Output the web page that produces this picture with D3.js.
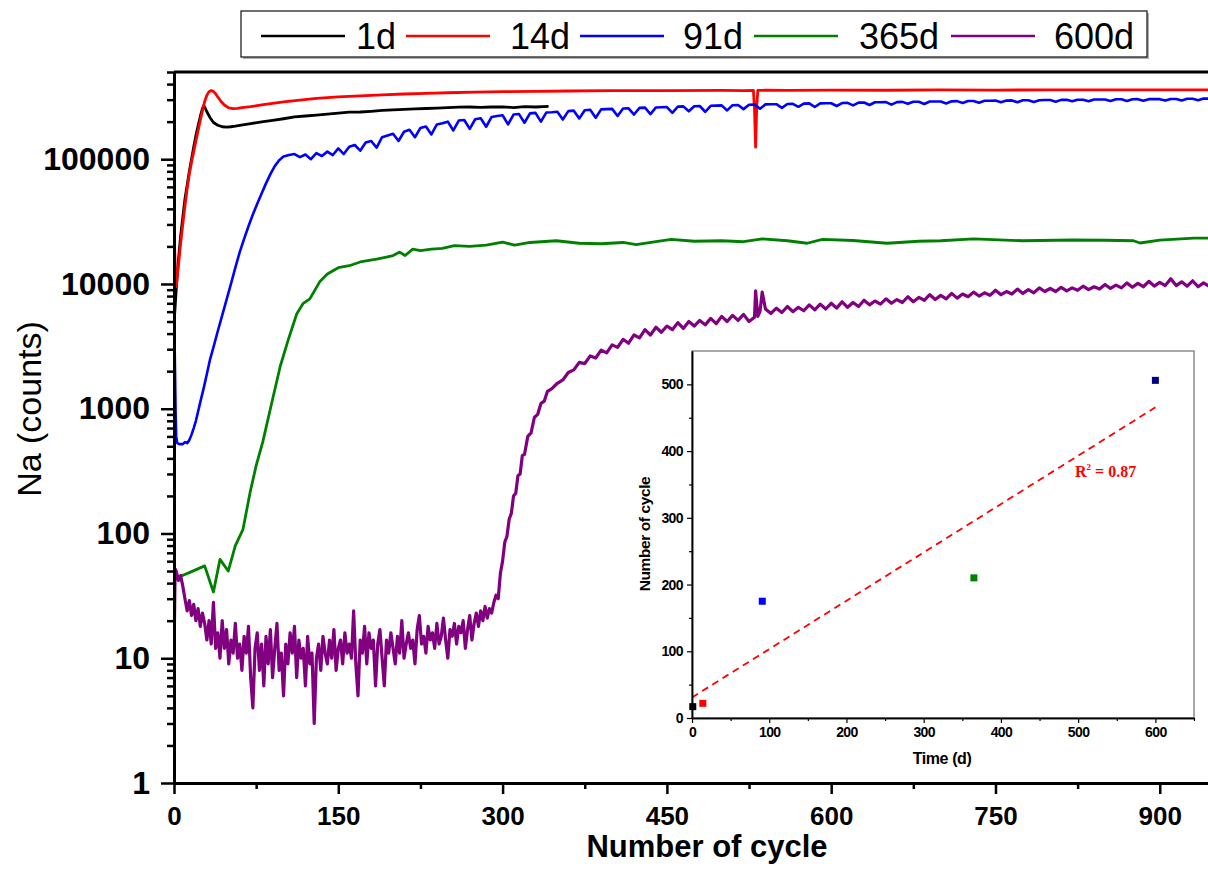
<!DOCTYPE html>
<html>
<head>
<meta charset="utf-8">
<script src="https://cdn.jsdelivr.net/npm/d3@7"></script>
<style>
  body { margin: 0; background: #fff; }
  svg { display: block; font-family: "Liberation Sans", Arial, sans-serif; }
</style>
</head>
<body>
<div id="root"></div>
<script>
// ---- data ----
const seriesNames = ["1d", "14d", "91d", "365d", "600d"];
const seriesColors = ["#000000", "#ff0000", "#0000ff", "#008000", "#800080"];
const seriesWidths = [2.8, 2.8, 2.6, 2.8, 3.2];

// 1d
const cyc1d = [0,1,2,3,4, 6,8,10,12,14,16,18,20,22,24,26, 27,28,30,33,36,40,44,48,52,56,60,
  70,80,90,100,110,120,130,140,150,160,170,180,190,200,210,220,230,240,250,260,270,280,290,300,310,320,330, 342];
const na1d = [4800,6500,9000,12000,15500, 24000,34000,48000,62000,80000,100000,125000,155000,185000,220000,255000,
  268000,262000,240000,215000,197000,187000,182000,181000,182000,184000,187000,
  193000,199000,205000,211000,218000,222000,226000,230000,234000,238000,239000,242000,246000,249000,251000,253000,
  255000,257000,259000,261000,262000,260000,262000,263000,259000,264000,262000, 265000];

// 14d
const cyc14d = [0,1,2,3,4, 6,8,10,12,14,16,18,20,22,24,26,28,30,32,34,36,38,40, 43,46,50,54,58,62, 70,80,90,100,
  115,130,150,170,190,210,230,250,275,300,330,360,400,450,500,520, 529,530,531,532,533,
  540,560,600,650,700,750,800,850,900,950];
const na14d = [32000,14000,9500,11500,14000, 21000,30000,42000,58000,76000,95000,115000,140000,170000,205000,245000,
  290000,325000,348000,355000,350000,335000,315000, 290000,272000,258000,254000,256000,259000,
  264000,272000,280000,288000, 298000,307000,316000,322000,328000,333000,337000,341000,345000,348000,350000,352000,
  354000,355000,356000,355000, 356000,250000,125000,260000,356000,
  357000,356000,358000,357000,359000,358000,360000,359000,360000,360000];

// 91d: start of the run, then one reading every 5 cycles from 110 (in thousands)
const cyc91dStart = [0,0.5,1,1.5,2,3,5,8,10,12,14,16,18,20,22,24,27,30,33,36,40,44,48,52,56,60,64,68,72,76,80,84,88,92,96,100,105];
const na91dStart = [6000,3500,1800,900,600,530,520,520,540,530,560,620,700,800,950,1130,1450,1900,2500,3100,4200,5600,
  7500,10000,13500,18000,23000,29000,36000,44000,53000,64000,76000,88000,98000,105000,108000];
const na91dTail_k = [
  110,104,109,100,112,106,115,108,
  122,110,126,130,117,136,140,124,150,155,
  160,140,166,172,150,178,183,158,190,194,
  200,170,204,206,175,209,213,182,218,222,
  225,190,228,230,196,233,235,200,237,238,
  240,208,243,245,212,247,249,215,251,252,
  253,222,255,256,228,258,259,230,260,261,
  262,235,264,265,242,266,267,240,268,269,
  270,246,271,272,252,273,274,254,275,276,
  276,258,277,278,263,279,280,262,280,281,
  281,267,282,283,270,284,285,272,286,286,
  287,274,287,288,278,289,289,277,290,290,
  290,280,291,292,282,293,293,284,294,294,
  295,286,295,296,286,297,297,288,297,298,
  298,289,299,299,291,300,300,292,301,301,
  301,293,302,302,293,302,303,294,303,303,
  303,295,304,304,296,305,305,297,306,306];

// 365d
const cyc365d = [2,5,15,28,36,42,49.5,56,63,69.5, 75,81,88,97,104,112,118,124,133,140,
  150,160,170,185,195,200,206,211,218,225, 235,245,256,270,285,300,311,325,349,370,
  390,410,422,440,454,475,500,520,537,560, 578,592,620,651,680,700,730,775,820,850, 876,882,900,931,950];
const na365d = [45,45,49,55,34,62,50,80,108,214, 350,540,1000,2190,3500,5750,7000,7600,10400,12000,
  13500,14000,15000,15800,16500,16900,18000,16900,19000,18500, 19000,19300,20300,20000,20500,21600,20500,21500,22200,21200,
  21000,21500,20700,21800,22800,22000,22200,21800,23000,22200, 21200,22800,22300,21200,22000,22200,23000,22200,22500,22400,
  22200,21300,22500,23300,23300];

// 600d: first two readings, noisy floor every 2 cycles (2..290), the rise, then every 5 cycles (345..945)
const cyc600dStart = [0, 1];
const na600dStart = [10, 52];
const na600dFloor = [50,42,46,38,30,24,29,22,27,20,25,18,23,19,14,20,13,28,12,16,10,20,12,17,9,14,11,19,10,13,
  8,15,11,18,7,4,12,16,8,13,6,15,9,17,7,12,19,8,11,5,13,9,16,11,18,7,14,10,12,6,
  15,9,11,3,10,13,8,15,11,9,14,10,17,8,12,14,9,16,11,13,10,24,9,5,14,11,18,9,16,12,
  14,6,13,17,10,6,14,11,16,12,9,15,11,20,10,13,16,12,14,9,17,22,13,15,11,18,14,16,12,19,
  13,15,21,14,10,17,15,19,13,18,16,20,12,17,22,14,19,23,18,24,20,26,21,25,23];
const cyc600dRise = [292,294,296,298,300,302,304,306,308,310,312,314,316,318,320,323,326,329,332,335,338,341];
const na600dRise = [28,32,30,48,60,85,95,130,145,200,210,290,300,420,430,600,640,850,900,1100,1150,1380];
const na600dHigh = [1450,1600,1700,1950,2050,2350,2300,2650,2550,2950,2800,3250,3100,3600,3350,3900,3700,4300,3900,4500,
  4100,4600,4300,4900,4400,5000,4600,5100,4700,5300,4800,5500,5000,5600,5100,5700,5000,
  5400,6000,6300,5800,6400,5900,6600,6000,6500,6100,6800,6200,6900,6300,7000,6400,7200,6500,7100,6600,
  7400,6800,7300,6900,7600,7000,7500,7100,7900,7200,7800,7400,8200,7500,8100,7600,8400,7700,8300,7900,
  8600,8000,8500,8100,8900,8200,8700,8300,9100,8400,9000,8500,9300,8700,9200,8700,9400,8800,9300,8900,
  9600,9000,9500,9100,9900,9200,9800,9300,10200,9400,10100,9500,10500,9600,10300,9700,11000,9700,10400,9600,
  10600,9500,10200,9600];
const cyc600dSpike = [531, 533, 537];
const na600dSpike = [8800, 5500, 8600];

// inset: cycle at which Na levels off vs. sample age
const insetDays = [1, 14, 91, 365, 600];
const insetCycles = [17, 22, 175, 210, 506];
const insetColors = ["#000000", "#ff0000", "#0000ff", "#008000", "#000080"];
const r2Text = "0.87";

// ticks
const xTicks = [0, 150, 300, 450, 600, 750, 900];
const yTicks = [1, 10, 100, 1000, 10000, 100000];

// ---- helpers ----
const zip = (cs, vs) => cs.slice(0, Math.min(cs.length, vs.length)).map((c, i) => [c, vs[i]]);

const series = [
  zip(cyc1d, na1d),
  zip(cyc14d, na14d),
  zip(cyc91dStart, na91dStart).concat(zip(d3.range(110, 946, 5), na91dTail_k.map(v => v * 1000))),
  zip(cyc365d, na365d),
  zip(cyc600dStart, na600dStart)
    .concat(zip(d3.range(2, 291, 2), na600dFloor))
    .concat(zip(cyc600dRise, na600dRise))
    .concat(zip(d3.range(345, 946, 5), na600dHigh))
    .concat(zip(cyc600dSpike, na600dSpike))
    .sort((a, b) => a[0] - b[0])
];

// ---- layout ----
const W = 1208, H = 870;
const plot = { left: 174, top: 72, bottom: 783 };

const svg = d3.select("#root").append("svg")
  .attr("width", W)
  .attr("height", H);

const x = d3.scaleLinear().domain([0, 960]).range([plot.left, plot.left + 960 * 1.0953]);
const y = d3.scaleLog().domain([1, 500000]).range([plot.bottom, plot.top]);

svg.append("clipPath").attr("id", "plotclip")
  .append("rect")
  .attr("x", plot.left).attr("y", plot.top)
  .attr("width", W - plot.left).attr("height", plot.bottom - plot.top);

const line = d3.line().x(d => x(d[0])).y(d => y(d[1]));

svg.append("g").attr("clip-path", "url(#plotclip)")
  .selectAll("path").data(series).enter().append("path")
  .attr("d", line)
  .attr("fill", "none")
  .attr("stroke", (d, i) => seriesColors[i])
  .attr("stroke-width", (d, i) => seriesWidths[i])
  .attr("stroke-linejoin", "round");

// axes
const yMinor = d3.range(0, 6).flatMap(e => d3.range(2, 10).map(m => m * Math.pow(10, e))).filter(v => v <= 500000);
const xMinor = d3.range(75, 960, 150);

let axes = svg.append("g").classed("axes", true);

axes.append("g")
  .attr("transform", `translate(${plot.left},0)`)
  .call(d3.axisLeft(y).tickValues(yMinor).tickFormat("").tickSize(7).tickSizeOuter(0));

axes.append("g")
  .attr("class", "y-axis")
  .attr("transform", `translate(${plot.left},0)`)
  .call(d3.axisLeft(y).tickValues(yTicks).tickFormat(d => d).tickSize(13).tickPadding(11).tickSizeOuter(0));

axes.append("g")
  .attr("transform", `translate(0,${plot.bottom})`)
  .call(d3.axisBottom(x).tickValues(xMinor).tickFormat("").tickSize(6).tickSizeOuter(0));

axes.append("g")
  .attr("class", "x-axis")
  .attr("transform", `translate(0,${plot.bottom})`)
  .call(d3.axisBottom(x).tickValues(xTicks).tickSize(11).tickSizeOuter(0));

axes.selectAll(".domain").attr("stroke", "#000").attr("stroke-width", 3);
axes.selectAll(".tick line").attr("stroke", "#000").attr("stroke-width", 2.5);

axes.select(".y-axis").selectAll("text")
  .attr("font-size", 32).attr("font-weight", "bold").attr("fill", "#000")
  .attr("font-family", "'Liberation Sans', Arial, sans-serif");

axes.select(".x-axis").selectAll("text")
  .attr("y", 42).attr("dy", 0)
  .attr("font-size", 26).attr("font-weight", "bold").attr("fill", "#000")
  .attr("font-family", "'Liberation Sans', Arial, sans-serif");

svg.append("line")
  .attr("x1", plot.left).attr("x2", W)
  .attr("y1", plot.top).attr("y2", plot.top)
  .attr("stroke", "#000").attr("stroke-width", 3);

svg.append("text")
  .attr("x", 707).attr("y", 857)
  .attr("text-anchor", "middle")
  .attr("font-size", 31).attr("font-weight", "bold")
  .text("Number of cycle");

svg.append("text")
  .attr("transform", "translate(41,409) rotate(-90)")
  .attr("text-anchor", "middle")
  .attr("font-size", 34)
  .text("Na (counts)");

// ---- legend ----
const legLineX = [261, 406, 580, 754, 951];
const legTextX = [356, 510, 683, 859, 1054];

let legend = svg.append("g");
legend.append("rect")
  .attr("x", 243).attr("y", 13).attr("width", 906).attr("height", 46)
  .attr("fill", "#b0b0b0");
legend.append("rect")
  .attr("x", 241).attr("y", 11).attr("width", 906).attr("height", 46)
  .attr("fill", "#fff").attr("stroke", "#222").attr("stroke-width", 1.3);

seriesNames.forEach((name, i) => {
  legend.append("line")
    .attr("x1", legLineX[i]).attr("x2", legLineX[i] + 84)
    .attr("y1", 36).attr("y2", 36)
    .attr("stroke", seriesColors[i]).attr("stroke-width", 2.5);
  legend.append("text")
    .attr("x", legTextX[i]).attr("y", 48.5)
    .attr("font-size", 36)
    .text(name);
});

// ---- inset ----
const inset = { left: 692, right: 1194, top: 351, bottom: 718 };
const ix = d3.scaleLinear().domain([0, 650]).range([inset.left, inset.right]);
const iy = d3.scaleLinear().domain([0, 550]).range([inset.bottom, inset.top]);

let ins = svg.append("g");
ins.append("rect")
  .attr("x", inset.left).attr("y", inset.top)
  .attr("width", inset.right - inset.left).attr("height", inset.bottom - inset.top)
  .attr("fill", "#fff").attr("stroke", "#8c8c8c").attr("stroke-width", 1.5);

// least squares fit through the inset points
const mx = d3.mean(insetDays), my = d3.mean(insetCycles);
const slope = d3.sum(insetDays, (d, i) => (d - mx) * (insetCycles[i] - my)) / d3.sum(insetDays, d => (d - mx) * (d - mx));
const icpt = my - slope * mx;

ins.append("line")
  .attr("x1", ix(0)).attr("y1", iy(icpt))
  .attr("x2", ix(600)).attr("y2", iy(icpt + slope * 600))
  .attr("stroke", "#ff0000").attr("stroke-width", 1.8)
  .attr("stroke-dasharray", "7,5");

ins.selectAll(".pt").data(insetDays).enter().append("rect")
  .attr("class", "pt")
  .attr("x", d => ix(d) - 3.5)
  .attr("y", (d, i) => iy(insetCycles[i]) - 3.5)
  .attr("width", 7).attr("height", 7)
  .attr("fill", (d, i) => insetColors[i]);

const ixAxis = ins.append("g").attr("transform", `translate(0,${inset.bottom})`);
ixAxis.call(d3.axisBottom(ix).tickValues(d3.range(50, 651, 100)).tickFormat("").tickSize(3).tickSizeOuter(0));
ixAxis.append("g").call(d3.axisBottom(ix).tickValues(d3.range(0, 601, 100)).tickSize(5).tickPadding(4).tickSizeOuter(0));

const iyAxis = ins.append("g").attr("transform", `translate(${inset.left},0)`);
iyAxis.call(d3.axisLeft(iy).tickValues(d3.range(50, 501, 100)).tickFormat("").tickSize(3).tickSizeOuter(0));
iyAxis.append("g").call(d3.axisLeft(iy).tickValues(d3.range(0, 501, 100)).tickSize(5).tickPadding(4).tickSizeOuter(0));

ins.selectAll(".domain").attr("stroke", "#000").attr("stroke-width", 1.5);
ins.selectAll(".tick line").attr("stroke", "#000").attr("stroke-width", 1.2);
ins.selectAll(".tick text")
  .attr("font-size", 14).attr("font-weight", "bold").attr("fill", "#000")
  .attr("letter-spacing", -0.6)
  .attr("font-family", "'Liberation Sans', Arial, sans-serif");

ins.append("text")
  .attr("x", 942).attr("y", 764)
  .attr("text-anchor", "middle")
  .attr("font-size", 16).attr("font-weight", "bold")
  .attr("letter-spacing", -0.4)
  .text("Time (d)");

ins.append("text")
  .attr("transform", "translate(650,534) rotate(-90)")
  .attr("text-anchor", "middle")
  .attr("font-size", 15.5).attr("font-weight", "bold")
  .attr("letter-spacing", -0.4)
  .text("Number of cycle");

const r2 = ins.append("text")
  .attr("x", 1075).attr("y", 477)
  .attr("font-family", "'Liberation Serif', 'Times New Roman', serif")
  .attr("font-size", 16).attr("font-weight", "bold")
  .attr("fill", "#ff0000");
r2.append("tspan").text("R");
r2.append("tspan").attr("font-size", 9).attr("dy", -7).text("2");
r2.append("tspan").attr("dy", 7).text(" = " + r2Text);
</script>
</body>
</html>
